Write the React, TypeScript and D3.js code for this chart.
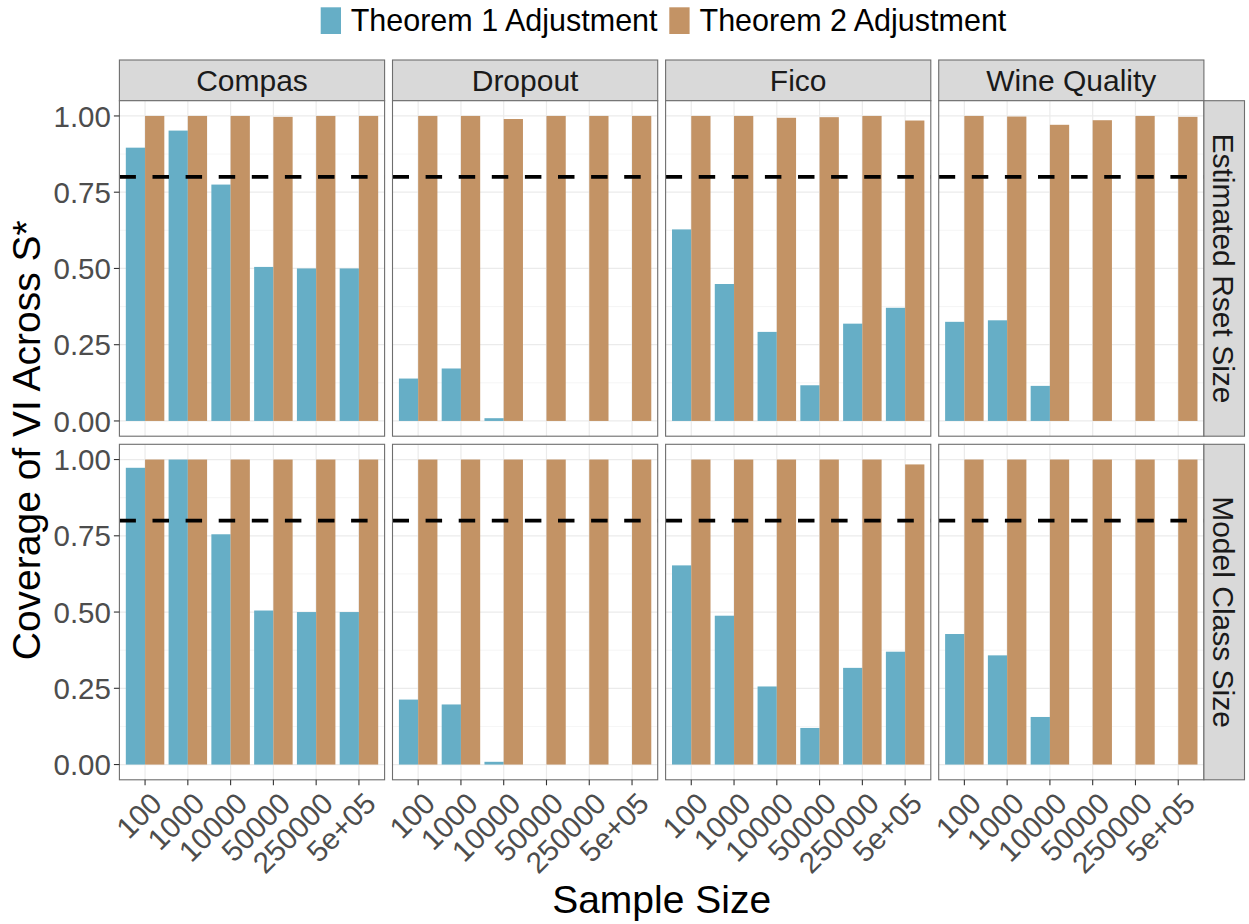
import React from "react";
import * as d3 from "d3";

const sampleSizes = ["100", "1000", "10000", "50000", "250000", "5e+05"];
const datasets = ["Compas", "Dropout", "Fico", "Wine Quality"];
const methods = ["Estimated Rset Size", "Model Class Size"];
const seriesNames = ["Theorem 1 Adjustment", "Theorem 2 Adjustment"];
const yTicks = [0, 0.25, 0.5, 0.75, 1.0];
const yMinor = [0.125, 0.375, 0.625, 0.875];
const threshold = 0.8;

// Estimated Rset Size row
const compasRsetT1 = [0.896, 0.952, 0.775, 0.505, 0.5, 0.5];
const compasRsetT2 = [1.0, 1.0, 1.0, 0.997, 1.0, 1.0];
const dropoutRsetT1 = [0.139, 0.172, 0.009, 0, 0, 0];
const dropoutRsetT2 = [1.0, 1.0, 0.99, 1.0, 1.0, 1.0];
const ficoRsetT1 = [0.628, 0.449, 0.292, 0.117, 0.319, 0.371];
const ficoRsetT2 = [1.0, 1.0, 0.994, 0.996, 1.0, 0.985];
const wineRsetT1 = [0.325, 0.33, 0.115, 0, 0, 0];
const wineRsetT2 = [1.0, 0.998, 0.971, 0.986, 1.0, 0.997];

// Model Class Size row
const compasClassT1 = [0.973, 1.0, 0.755, 0.505, 0.5, 0.5];
const compasClassT2 = [1.0, 1.0, 1.0, 1.0, 1.0, 1.0];
const dropoutClassT1 = [0.213, 0.197, 0.009, 0, 0, 0];
const dropoutClassT2 = [1.0, 1.0, 1.0, 1.0, 1.0, 1.0];
const ficoClassT1 = [0.653, 0.488, 0.256, 0.12, 0.317, 0.37];
const ficoClassT2 = [1.0, 1.0, 1.0, 1.0, 1.0, 0.984];
const wineClassT1 = [0.428, 0.358, 0.156, 0, 0, 0];
const wineClassT2 = [1.0, 1.0, 1.0, 1.0, 1.0, 1.0];

const panelData: number[][][][] = [
  [
    [compasRsetT1, compasRsetT2],
    [dropoutRsetT1, dropoutRsetT2],
    [ficoRsetT1, ficoRsetT2],
    [wineRsetT1, wineRsetT2],
  ],
  [
    [compasClassT1, compasClassT2],
    [dropoutClassT1, dropoutClassT2],
    [ficoClassT1, ficoClassT2],
    [wineClassT1, wineClassT2],
  ],
];

const colors = ["#66AEC6", "#C39365"];
const FONT = "'Liberation Sans', Arial, Helvetica, sans-serif";

const W = 1249;
const H = 924;
const plotLeft = 119.4;
const panelW = 265.2;
const panelPitch = 273.1;
const stripTop = 60;
const stripH = 40.7;
const rowTops = [100.7, 444.3];
const panelH = 335.5;
const rightStripW = 40.6;

export default function App() {
  const x = d3.scaleLinear().domain([-0.6, sampleSizes.length - 1 + 0.6]).range([0, panelW]);
  const y = d3.scaleLinear().domain([-0.05, 1.05]).range([panelH, 0]);
  const barHalf = 0.45;

  const panels: React.ReactNode[] = [];
  methods.forEach((m, r) => {
    datasets.forEach((ds, c) => {
      const px = plotLeft + c * panelPitch;
      const py = rowTops[r];
      const clipId = `clip-${r}-${c}`;
      panels.push(
        <g key={`p-${r}-${c}`} transform={`translate(${px},${py})`}>
          <defs>
            <clipPath id={clipId}>
              <rect x={0} y={0} width={panelW} height={panelH} />
            </clipPath>
          </defs>
          <rect x={0} y={0} width={panelW} height={panelH} fill="#FFFFFF" />
          {yMinor.map((t) => (
            <line key={`mi${t}`} x1={0} x2={panelW} y1={y(t)} y2={y(t)} stroke="#F2F2F2" strokeWidth={0.8} />
          ))}
          {yTicks.map((t) => (
            <line key={`ma${t}`} x1={0} x2={panelW} y1={y(t)} y2={y(t)} stroke="#EBEBEB" strokeWidth={1.2} />
          ))}
          {sampleSizes.map((s, i) => (
            <line key={`vx${s}`} x1={x(i)} x2={x(i)} y1={0} y2={panelH} stroke="#EBEBEB" strokeWidth={1.2} />
          ))}
          <g clipPath={`url(#${clipId})`}>
            {panelData[r][c].map((vals, si) =>
              vals.map((v, i) => {
                const x0 = si === 0 ? x(i - barHalf) : x(i);
                const x1 = si === 0 ? x(i) : x(i + barHalf);
                return (
                  <rect
                    key={`b${si}-${i}`}
                    x={x0}
                    y={y(v)}
                    width={x1 - x0}
                    height={Math.max(0, y(0) - y(v))}
                    fill={colors[si]}
                  />
                );
              })
            )}
            <line
              x1={0}
              x2={panelW}
              y1={y(threshold)}
              y2={y(threshold)}
              stroke="#000000"
              strokeWidth={3.8}
              strokeDasharray="16.5,16.6"
            />
          </g>
          <rect x={0} y={0} width={panelW} height={panelH} fill="none" stroke="#6E6E6E" strokeWidth={1.1} />
          {c === 0 &&
            yTicks.map((t) => (
              <g key={`yt${t}`}>
                <line x1={-5.5} x2={0} y1={y(t)} y2={y(t)} stroke="#333333" strokeWidth={1.1} />
                <text
                  x={-8.5}
                  y={y(t)}
                  dy="0.36em"
                  textAnchor="end"
                  fontSize={29.5}
                  fill="#4D4D4D"
                  fontFamily={FONT}
                >
                  {d3.format(".2f")(t)}
                </text>
              </g>
            ))}
          {r === methods.length - 1 &&
            sampleSizes.map((s, i) => (
              <g key={`xt${s}`}>
                <line x1={x(i)} x2={x(i)} y1={panelH} y2={panelH + 5.5} stroke="#333333" strokeWidth={1.1} />
                <text
                  transform={`translate(${x(i) + 4},${panelH + 11}) rotate(-45)`}
                  dy="0.7em"
                  textAnchor="end"
                  fontSize={29.5}
                  fill="#4D4D4D"
                  fontFamily={FONT}
                >
                  {s}
                </text>
              </g>
            ))}
        </g>
      );
    });
  });

  const stripsTop = datasets.map((ds, c) => {
    const px = plotLeft + c * panelPitch;
    return (
      <g key={`st${c}`}>
        <rect x={px} y={stripTop} width={panelW} height={stripH} fill="#D9D9D9" stroke="#6E6E6E" strokeWidth={1.1} />
        <text
          x={px + panelW / 2}
          y={stripTop + stripH / 2}
          dy="0.36em"
          textAnchor="middle"
          fontSize={30}
          fill="#1A1A1A"
          fontFamily={FONT}
        >
          {ds}
        </text>
      </g>
    );
  });

  const stripRight = plotLeft + 3 * panelPitch + panelW;
  const stripsRight = methods.map((m, r) => {
    const py = rowTops[r];
    const cx = stripRight + rightStripW / 2;
    const cy = py + panelH / 2;
    return (
      <g key={`sr${r}`}>
        <rect x={stripRight} y={py} width={rightStripW} height={panelH} fill="#D9D9D9" stroke="#6E6E6E" strokeWidth={1.1} />
        <text
          transform={`translate(${cx},${cy}) rotate(90)`}
          dy="0.36em"
          textAnchor="middle"
          fontSize={30}
          fill="#1A1A1A"
          fontFamily={FONT}
        >
          {m}
        </text>
      </g>
    );
  });

  const panelsCenterX = plotLeft + (3 * panelPitch + panelW) / 2;
  const panelsCenterY = (rowTops[0] + rowTops[1] + panelH) / 2;

  const legendItems = [
    { key: 0, kx: 320.7, tx: 350.7 },
    { key: 1, kx: 669.3, tx: 699.5 },
  ];

  return (
    <svg
      width={W}
      height={H}
      style={{ display: "block", position: "absolute", left: 0, top: 0, background: "#FFFFFF" }}
      fontFamily={FONT}
    >
      <rect x={0} y={0} width={W} height={H} fill="#FFFFFF" />
      {legendItems.map((li) => (
        <g key={`lg${li.key}`}>
          <rect x={li.kx} y={7.3} width={20.3} height={26.7} fill={colors[li.key]} />
          <text x={li.tx} y={31} fontSize={30.5} fill="#000000" fontFamily={FONT}>
            {seriesNames[li.key]}
          </text>
        </g>
      ))}
      {stripsTop}
      {panels}
      {stripsRight}
      <text
        transform={`translate(40,${panelsCenterY}) rotate(-90)`}
        textAnchor="middle"
        fontSize={39}
        fill="#000000"
        fontFamily={FONT}
      >
        Coverage of VI Across S*
      </text>
      <text x={panelsCenterX} y={913} textAnchor="middle" fontSize={39} fill="#000000" fontFamily={FONT}>
        Sample Size
      </text>
    </svg>
  );
}
